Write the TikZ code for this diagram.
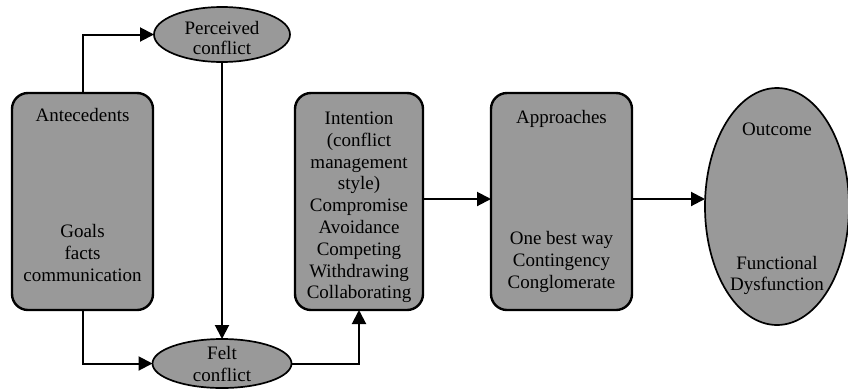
\documentclass[tikz,border=0pt]{standalone}
\usepackage{fontspec}
\setmainfont{Liberation Serif}
\usetikzlibrary{arrows.meta,shapes.geometric}
\definecolor{boxgray}{HTML}{999999}
\begin{document}
\begin{tikzpicture}[x=1pt,y=-1pt,
  box/.style={draw=black,fill=boxgray,line width=2.4pt,rounded corners=16pt,inner sep=0pt,outer sep=0pt},
  oval/.style={ellipse,draw=black,fill=boxgray,line width=1.7pt,inner sep=0pt,outer sep=0pt},
  txt/.style={font=\fontsize{19}{21.8}\selectfont,align=center,inner sep=0pt},
  conn/.style={line width=2pt,-{Triangle[length=14pt,width=14pt]}}]
\useasboundingbox (0,0) rectangle (848,389);
% shapes
\node[box,minimum width=141pt,minimum height=217pt] (ante) at (82.5,201.5) {};
\node[box,minimum width=128pt,minimum height=217pt] (inten) at (359,201.5) {};
\node[box,minimum width=141pt,minimum height=217pt] (appr) at (561.5,201.5) {};
\node[oval,minimum width=144pt,minimum height=237pt] (outc) at (777,206.5) {};
\node[oval,minimum width=136pt,minimum height=55pt] (perc) at (222,34.5) {};
\node[oval,minimum width=139pt,minimum height=49pt] (felt) at (222,363.5) {};
\coordinate (mid) at (0,199);
% texts
\node[txt] (anteT) at (82.5,115) {Antecedents};
\node[txt] (anteB) at (82.5,253) {Goals\\facts\\communication};
\node[txt] (intenT) at (359,207.5) {Intention\\(conflict\\management\\style)\\Compromise\\Avoidance\\Competing\\Withdrawing\\Collaborating};
\node[txt] (apprT) at (561.5,119) {Approaches};
\node[txt] (apprB) at (561.5,262) {One best way\\Contingency\\Conglomerate};
\node[txt] (outcT) at (777,129) {Outcome};
\node[txt] (outcB) at (777,275.5) {Functional\\Dysfunction};
\node[txt,font=\fontsize{19}{20.5}\selectfont] (percT) at (222,38) {Perceived\\conflict};
\node[txt,font=\fontsize{19}{21.5}\selectfont] (feltT) at (222,364) {Felt\\conflict};
% connectors
\draw[conn] (ante.north) |- (perc.west);
\draw[conn] (ante.south) |- (felt.west);
\draw[conn] (perc.south) -- (felt.north);
\draw[conn] (felt.east) -| (inten.south);
\draw[conn] (inten.east |- mid) -- (appr.west |- mid);
\draw[conn] (appr.east |- mid) -- (outc.west |- mid);
\end{tikzpicture}
\end{document}
